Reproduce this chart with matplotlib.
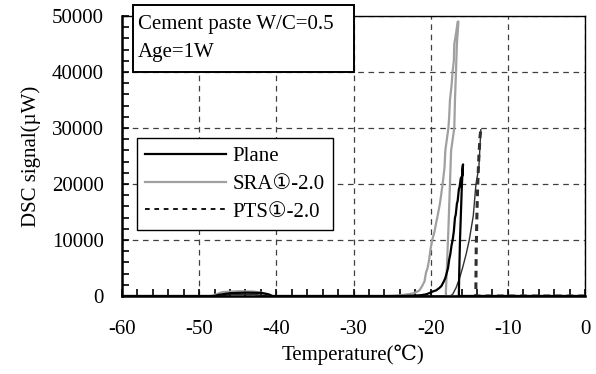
import numpy as np
import matplotlib
matplotlib.use("Agg")
import matplotlib.pyplot as plt
from matplotlib.patches import Rectangle
from matplotlib.ticker import MultipleLocator

plt.rcParams['font.family'] = ['Liberation Serif', 'DejaVu Serif', 'DejaVu Sans', 'Noto Sans CJK JP']
plt.rcParams['font.size'] = 15
plt.rcParams['axes.unicode_minus'] = False

# DSC cooling curves (temperature in C, signal in uW)
plane_temp = [0, -10, -16.35, -16.3, -16.2, -16.05, -15.95, -15.85, -15.8,
              -15.85, -15.9, -16.1, -16.25, -16.35, -16.5, -16.6, -16.75, -16.85,
              -17.0, -17.15, -17.3, -17.45, -17.6, -17.75, -17.9, -18.1, -18.3,
              -18.6, -18.9, -19.3, -19.75, -20.2, -20.6, -21.2, -22.5, -24,
              -40.5, -41, -42, -44, -46, -47.5, -48, -60]
plane_signal = [0, 0, 0, 4000, 10000, 16000, 20000, 22500, 23500,
                23300, 21500, 21000, 19500, 19000, 17000, 16500, 14500, 14000,
                11500, 10000, 9000, 7500, 6500, 5000, 4200, 3200, 2600,
                1800, 1400, 1000, 800, 500, 300, 150, 50, 0,
                0, 300, 550, 600, 500, 200, 0, 0]

sra_temp = [0, -10, -18.05, -17.9, -17.7, -17.5, -17.35, -16.94, -16.85, -16.72,
            -16.6, -16.4, -16.5, -16.7, -16.94, -17.0, -17.16, -17.3, -17.5,
            -17.6, -17.7, -17.9, -18.1, -18.2, -18.45, -18.6, -18.8, -19.1,
            -19.3, -19.5, -19.8, -20.0, -20.2, -20.4, -20.6, -20.8, -21.1,
            -21.46, -22, -22.5, -23.5, -24.5, -25.5,
            -40.8, -41.5, -43, -45, -47, -48, -48.5, -60]
sra_signal = [0, 0, 0, 5000, 12000, 20000, 26000, 30000, 35000, 40000,
              45000, 49000, 49000, 47000, 45000, 42000, 40000, 37500, 35000,
              32000, 30000, 28000, 26000, 23000, 20000, 18500, 16500, 14300,
              13000, 11500, 10000, 8500, 6500, 5000, 4200, 2600, 1800,
              1000, 600, 400, 200, 80, 0,
              0, 500, 800, 850, 700, 200, 0, 0]

pts_temp = [0, -10, -14.15, -14.1, -14.0, -13.9, -13.75, -13.6, -13.5,
            -13.6, -13.75, -14.13, -14.48, -15.0, -15.4, -15.87, -16.3, -16.7,
            -17.15, -17.5, -41, -43, -46, -47, -60]
pts_signal = [0, 0, 0, 8000, 15000, 20000, 25000, 28500, 29700,
              27000, 23000, 20000, 14300, 10000, 7500, 5000, 3000, 1500,
              300, 0, 0, 300, 300, 0, 0]

legend_labels = ["Plane", "SRA①-2.0", "PTS①-2.0"]

fig = plt.figure(figsize=(5.96, 3.74), dpi=100)
ax = fig.add_axes([122 / 596, 1 - 296 / 374, 463 / 596, 280 / 374])

gray = "#a0a0a0"
dark = "#303030"

pk = int(np.argmax(pts_signal))
ax.plot(pts_temp[:pk + 1], pts_signal[:pk + 1], color=dark, lw=2.2,
        linestyle=(0, (2.2, 1.6)))
ax.plot(pts_temp[pk:], pts_signal[pk:], color=dark, lw=1.0)
ax.plot(sra_temp, sra_signal, color=gray, lw=1.6)
ax.plot(plane_temp, plane_signal, color="black", lw=1.6)

ax.set_xlim(-60, 0)
ax.set_ylim(0, 50000)
ax.xaxis.set_major_locator(MultipleLocator(10))
ax.xaxis.set_minor_locator(MultipleLocator(2))
ax.yaxis.set_major_locator(MultipleLocator(10000))
ax.yaxis.set_minor_locator(MultipleLocator(2000))
ax.tick_params(which="both", direction="in", length=5, width=1.2, top=False, right=False)
ax.tick_params(axis="x", pad=17)
ax.tick_params(axis="y", pad=13)
ax.grid(True, which="major", color="#404040", lw=0.9, linestyle=(0, (4.5, 3.7)))
ax.spines["left"].set_linewidth(1.8)
ax.spines["bottom"].set_linewidth(1.8)
ax.spines["top"].set_linewidth(1.0)
ax.spines["right"].set_linewidth(1.0)

ax.set_xlabel("Temperature(℃)", labelpad=4)
ax.set_ylabel("DSC signal(µW)", labelpad=8)

# legend
h1, = ax.plot([], [], color="black", lw=1.6)
h2, = ax.plot([], [], color=gray, lw=1.6)
h3, = ax.plot([], [], color="black", lw=1.3, linestyle=(0, (2.6, 2.6)))
leg = fig.legend([h1, h2, h3], legend_labels, loc="upper left",
                 bbox_to_anchor=(136.7 / 596, 1 - 138 / 374), frameon=True,
                 fancybox=False, edgecolor="black", framealpha=1,
                 handlelength=3.9, handletextpad=0.3, labelspacing=0.4,
                 borderpad=0.4, borderaxespad=0)
leg.get_frame().set_linewidth(1.0)

# annotation box at the top left
fig.patches.append(Rectangle((133 / 596, 1 - 72 / 374), 221 / 596, 67 / 374,
                             transform=fig.transFigure, facecolor="white",
                             edgecolor="black", lw=1.4, zorder=5))
fig.text(138 / 596, 1 - 25 / 374, "Cement paste W/C=0.5", va="center", ha="left", zorder=6)
fig.text(138 / 596, 1 - 53 / 374, "Age=1W", va="center", ha="left", zorder=6)

fig.savefig("out.png", dpi=100)
